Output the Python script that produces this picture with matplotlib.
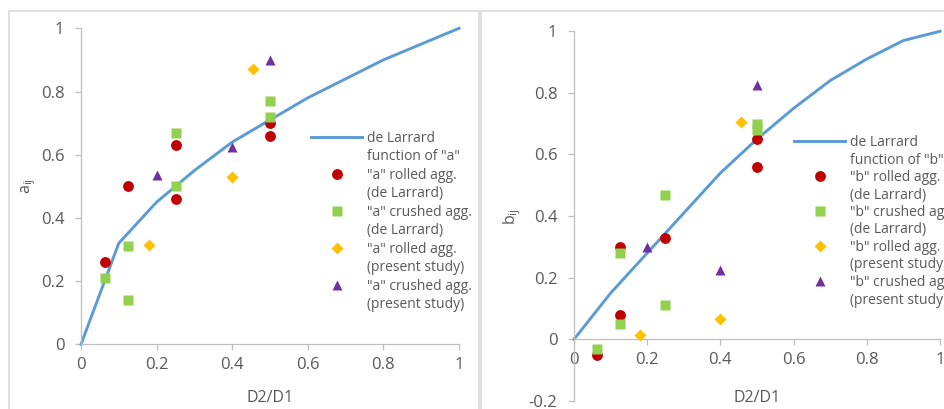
import matplotlib
matplotlib.use('Agg')
import matplotlib.pyplot as plt
from matplotlib.lines import Line2D
from matplotlib.patches import Rectangle

plt.rcParams['font.family'] = ['Open Sans', 'DejaVu Sans']
plt.rcParams['mathtext.default'] = 'regular'

# de Larrard curves, every 0.1 of D2/D1
ratio = [0, 0.1, 0.2, 0.3, 0.4, 0.5, 0.6, 0.7, 0.8, 0.9, 1.0]
a_curve = [0, 0.32, 0.45, 0.55, 0.64, 0.71, 0.78, 0.84, 0.90, 0.95, 1.0]
b_curve = [0, 0.15, 0.28, 0.41, 0.54, 0.65, 0.75, 0.84, 0.91, 0.97, 1.0]

# "a" points
a_rolled_dl_x = [0.0625, 0.125, 0.25, 0.25, 0.5, 0.5]
a_rolled_dl_y = [0.26, 0.50, 0.63, 0.46, 0.70, 0.66]
a_crushed_dl_x = [0.0625, 0.125, 0.125, 0.25, 0.25, 0.5, 0.5]
a_crushed_dl_y = [0.21, 0.31, 0.14, 0.67, 0.50, 0.77, 0.72]
a_rolled_ps_x = [0.18, 0.4, 0.455]
a_rolled_ps_y = [0.315, 0.53, 0.87]
a_crushed_ps_x = [0.2, 0.4, 0.5]
a_crushed_ps_y = [0.535, 0.625, 0.90]

# "b" points
b_rolled_dl_x = [0.0625, 0.125, 0.125, 0.25, 0.5, 0.5]
b_rolled_dl_y = [-0.05, 0.30, 0.08, 0.33, 0.65, 0.56]
b_crushed_dl_x = [0.0625, 0.125, 0.125, 0.25, 0.25, 0.5, 0.5]
b_crushed_dl_y = [-0.03, 0.28, 0.05, 0.47, 0.11, 0.70, 0.68]
b_rolled_ps_x = [0.18, 0.4, 0.455]
b_rolled_ps_y = [0.015, 0.065, 0.705]
b_crushed_ps_x = [0.2, 0.4, 0.5]
b_crushed_ps_y = [0.30, 0.225, 0.825]

x_ticks = [0, 0.2, 0.4, 0.6, 0.8, 1.0]
x_tick_labels = ['0', '0.2', '0.4', '0.6', '0.8', '1']
a_ticks = [0, 0.2, 0.4, 0.6, 0.8, 1.0]
a_tick_labels = ['0', '0.2', '0.4', '0.6', '0.8', '1']
b_ticks = [-0.2, 0, 0.2, 0.4, 0.6, 0.8, 1.0]
b_tick_labels = ['-0.2', '0', '0.2', '0.4', '0.6', '0.8', '1']

BLUE = '#5b9bd5'
RED = '#c00000'
GREEN = '#92d050'
YELLOW = '#ffc000'
PURPLE = '#7030a0'
AXIS = '#bfbfbf'
TEXT = '#595959'

W, H = 945, 409
fig = plt.figure(figsize=(W / 100, H / 100), dpi=100)

# grey chart-area frames (excel style)
fig.add_artist(Rectangle((9.5 / W, -0.05), (479 - 9.5) / W, 1.05 - 11 / H,
                         transform=fig.transFigure, fill=False, ec='#d9d9d9', lw=1.2))
fig.add_artist(Rectangle((481.5 / W, -0.05), 0.6, 1.05 - 11 / H,
                         transform=fig.transFigure, fill=False, ec='#d9d9d9', lw=1.2))


def px_axes(x0, x1, ytop, ybot):
    return fig.add_axes([x0 / W, 1 - ybot / H, (x1 - x0) / W, (ybot - ytop) / H])


def drawPanel(ax, curve, pts, letter, legend_xy, spacing):
    ax.plot(ratio, curve, color=BLUE, lw=2.1, clip_on=False, zorder=2)
    ax.plot(pts[0], pts[1], 'o', color=RED, ms=7.8, mec='none', clip_on=False, zorder=3)
    ax.plot(pts[2], pts[3], 's', color=GREEN, ms=7.2, mec='none', clip_on=False, zorder=3)
    ax.plot(pts[4], pts[5], 'D', color=YELLOW, ms=5.8, mec='none', clip_on=False, zorder=3)
    ax.plot(pts[6], pts[7], '^', color=PURPLE, ms=7.8, mec='none', clip_on=False, zorder=3)

    ax.set_xlim(0, 1)
    ax.set_xticks(x_ticks)
    ax.set_xticklabels(x_tick_labels)
    for s in ['top', 'right']:
        ax.spines[s].set_visible(False)
    for s in ['left', 'bottom']:
        ax.spines[s].set_color(AXIS)
        ax.spines[s].set_linewidth(0.9)
    ax.tick_params(colors=AXIS, labelcolor=TEXT, labelsize=12, length=4, width=0.9)
    ax.tick_params(axis='x', pad=5)
    ax.tick_params(axis='y', pad=8)
    ax.set_facecolor('none')

    # legend: one row per text line so the markers sit on the first line
    blank = Line2D([], [], ls='none')
    handles = [Line2D([], [], color=BLUE, lw=2.1), blank,
               Line2D([], [], ls='none', marker='o', color=RED, ms=7.8, mec='none'), blank,
               Line2D([], [], ls='none', marker='s', color=GREEN, ms=7.2, mec='none'), blank,
               Line2D([], [], ls='none', marker='D', color=YELLOW, ms=5.8, mec='none'), blank,
               Line2D([], [], ls='none', marker='^', color=PURPLE, ms=7.8, mec='none'), blank]
    q = '"' + letter + '"'
    labels = ['de Larrard', 'function of ' + q,
              q + ' rolled agg.', '(de Larrard)',
              q + ' crushed agg.', '(de Larrard)',
              q + ' rolled agg.', '(present study)',
              q + ' crushed agg.', '(present study)']
    leg = ax.legend(handles, labels, loc='upper left',
                    bbox_to_anchor=(legend_xy[0] / W, 1 - legend_xy[1] / H),
                    bbox_transform=fig.transFigure, frameon=False, fontsize=10,
                    borderpad=0, borderaxespad=0, handlelength=3.7, handletextpad=0.35,
                    labelspacing=spacing)
    for t in leg.get_texts():
        t.set_color(TEXT)


# left chart, a_ij
ax1 = px_axes(81, 459, 28.3, 344.3)
drawPanel(ax1, a_curve,
          [a_rolled_dl_x, a_rolled_dl_y, a_crushed_dl_x, a_crushed_dl_y,
           a_rolled_ps_x, a_rolled_ps_y, a_crushed_ps_x, a_crushed_ps_y],
          'a', (311, 131), 0.25)
ax1.set_ylim(0, 1)
ax1.set_yticks(a_ticks)
ax1.set_yticklabels(a_tick_labels)
ax1.set_xlabel('D2/D1', fontsize=11.5, color=TEXT, va='center')
ax1.xaxis.set_label_coords(0.5, -0.17)
ax1.set_ylabel('a$_{ij}$', fontsize=11.5, color=TEXT, va='center')
ax1.yaxis.set_label_coords(-52 / 378, 0.5)

# right chart, b_ij (cut off at the right edge like the original)
ax2 = px_axes(574, 940, 31.3, 400.9)
drawPanel(ax2, b_curve,
          [b_rolled_dl_x, b_rolled_dl_y, b_crushed_dl_x, b_crushed_dl_y,
           b_rolled_ps_x, b_rolled_ps_y, b_crushed_ps_x, b_crushed_ps_y],
          'b', (794, 135), 0.18)
ax2.set_ylim(-0.2, 1)
ax2.set_yticks(b_ticks)
ax2.set_yticklabels(b_tick_labels)
ax2.spines['bottom'].set_position(('data', 0))
ax2.set_xlabel('D2/D1', fontsize=11.5, color=TEXT, va='center')
ax2.xaxis.set_label_coords(0.5, (400.9 - 398) / 369.6)
ax2.set_ylabel('b$_{ij}$', fontsize=11.5, color=TEXT, va='center')
ax2.yaxis.set_label_coords(-62 / 366, (400.9 - 217) / 369.6)

plt.savefig('out.png', dpi=100)
